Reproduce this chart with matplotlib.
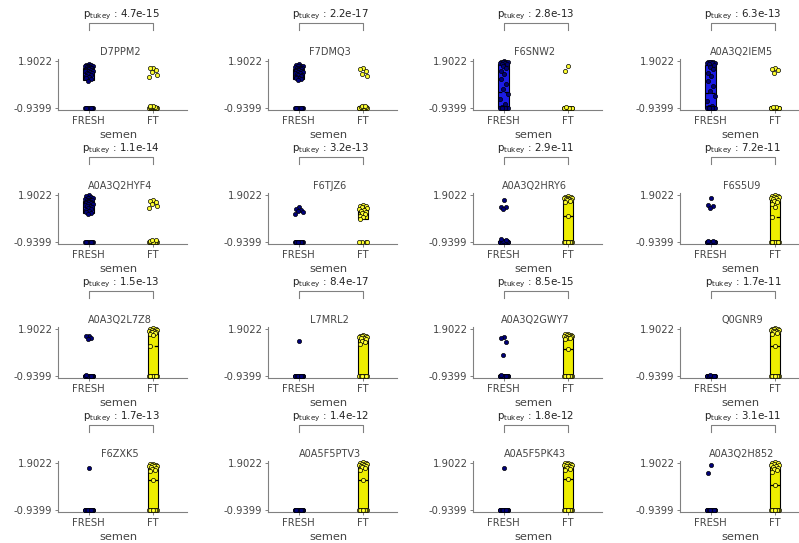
import numpy as np
import matplotlib
matplotlib.use("Agg")
import matplotlib.pyplot as plt

# ---- data ----------------------------------------------------------------
proteins = ["D7PPM2", "F7DMQ3", "F6SNW2", "A0A3Q2IEM5",
            "A0A3Q2HYF4", "F6TJZ6", "A0A3Q2HRY6", "F6S5U9",
            "A0A3Q2L7Z8", "L7MRL2", "A0A3Q2GWY7", "Q0GNR9",
            "F6ZXK5", "A0A5F5PTV3", "A0A5F5PK43", "A0A3Q2H852"]

p_tukey = ["4.7e-15", "2.2e-17", "2.8e-13", "6.3e-13",
           "1.1e-14", "3.2e-13", "2.9e-11", "7.2e-11",
           "1.5e-13", "8.4e-17", "8.5e-15", "1.7e-11",
           "1.7e-13", "1.4e-12", "1.8e-12", "3.1e-11"]

groups = ["FRESH", "FT"]
y_ticks = [-0.9399, 1.9022]

fresh = [
    [1.72, 1.68, 1.65, 1.62, 1.6, 1.57, 1.55, 1.52, 1.5, 1.47, 1.45, 1.42, 1.4, 1.37,
     1.35, 1.32, 1.3, 1.27, 1.25, 1.2, 1.15, 1.1, 1.05, 1.0, 0.95, 0.88, 0.8, 0.7]
    + [-0.94] * 6 + [-0.93, -0.92],
    [1.7, 1.66, 1.62, 1.6, 1.57, 1.54, 1.5, 1.48, 1.45, 1.42, 1.4, 1.37, 1.34, 1.3,
     1.28, 1.25, 1.22, 1.2, 1.16, 1.12, 1.08, 1.04, 1.0, 0.95, 0.9, 0.85, 0.8, 0.75]
    + [-0.94] * 6 + [-0.93, -0.92],
    [1.88, 1.86, 1.85, 1.84, 1.82, 1.8, 1.78, 1.75, 1.7, 1.6, 1.5, 1.3, 1.1, 0.8,
     0.5, 0.2, -0.1, -0.4, -0.7, -0.9] + [-0.94] * 12,
    [1.86, 1.85, 1.84, 1.82, 1.8, 1.78, 1.76, 1.72, 1.65, 1.55, 1.4, 1.2, 1.0, 0.7,
     0.4, 0.1, -0.2, -0.5, -0.8, -0.9] + [-0.94] * 12,
    [1.88, 1.82, 1.78, 1.74, 1.7, 1.66, 1.62, 1.6, 1.57, 1.54, 1.5, 1.48, 1.45, 1.42,
     1.4, 1.37, 1.34, 1.3, 1.26, 1.22, 1.18, 1.12, 1.06, 1.0, 0.95, 0.88, 0.82, 0.75]
    + [-0.94] * 6 + [-0.93, -0.92],
    [1.15, 1.05, 1.0, 0.95, 0.85, 0.75] + [-0.94] * 22,
    [1.62, 1.2, 1.15, 1.08] + [-0.94] * 16 + [-0.9, -0.86, -0.82, -0.78],
    [1.75, 1.32, 1.22, 1.1] + [-0.94] * 18 + [-0.9, -0.86],
    [1.5, 1.45, 1.38, 1.3] + [-0.94] * 18 + [-0.91, -0.88],
    [1.2] + [-0.94] * 22,
    [1.42, 1.38, 1.12, 0.3] + [-0.94] * 18 + [-0.91, -0.88],
    [-0.94] * 20 + [-0.92, -0.9],
    [1.6] + [-0.94] * 22,
    [-0.94] * 24,
    [1.6] + [-0.94] * 22,
    [1.8, 1.28] + [-0.94] * 20,
]

ft = [
    [1.5, 1.45, 1.38, 1.25, 1.05, 0.95] + [-0.94] * 14 + [-0.92, -0.9, -0.88, -0.86, -0.84, -0.8],
    [1.48, 1.4, 1.32, 1.12, 1.0] + [-0.94] * 13 + [-0.92, -0.9, -0.87, -0.84, -0.82],
    [1.58, 1.32] + [-0.94] * 16 + [-0.92, -0.9],
    [1.5, 1.42, 1.35, 1.2] + [-0.94] * 14 + [-0.9, -0.86],
    [1.6, 1.55, 1.48, 1.38, 1.25, 1.12] + [-0.94] * 18 + [-0.92, -0.88, -0.84, -0.8],
    [1.3, 1.25, 1.22, 1.18, 1.12, 1.08, 1.0, 0.95, 0.9, 0.82, 0.75, 0.65, 0.55, 0.45]
    + [-0.94] * 4,
    [1.85, 1.8, 1.78, 1.75, 1.72, 1.7, 1.68, 1.65, 1.62, 1.6, 1.55, 1.5, 0.65] + [-0.94] * 12,
    [1.9, 1.85, 1.82, 1.8, 1.78, 1.75, 1.7, 1.65, 1.6, 1.55, 1.45, 1.35, 1.2, 0.55]
    + [-0.94] * 13,
    [1.95, 1.9, 1.88, 1.85, 1.82, 1.8, 1.78, 1.75, 1.72, 1.7, 1.65, 1.6, 1.55, 0.85]
    + [-0.94] * 13,
    [1.55, 1.5, 1.48, 1.45, 1.42, 1.4, 1.38, 1.35, 1.3, 1.2, 1.12, 0.97] + [-0.94] * 10,
    [1.6, 1.58, 1.55, 1.52, 1.5, 1.48, 1.45, 1.42, 1.4, 1.38, 1.35, 1.3, 0.7] + [-0.94] * 12,
    [1.95, 1.92, 1.9, 1.88, 1.85, 1.82, 1.8, 1.78, 1.75, 1.7, 1.65, 1.6, 0.85] + [-0.94] * 12,
    [1.85, 1.82, 1.8, 1.78, 1.75, 1.72, 1.7, 1.65, 1.6, 1.55, 1.48, 1.4, 0.9] + [-0.94] * 12,
    [1.95, 1.92, 1.9, 1.87, 1.84, 1.8, 1.77, 1.73, 1.7, 1.65, 1.6, 1.5, 0.9] + [-0.94] * 12,
    [1.9, 1.88, 1.85, 1.82, 1.8, 1.77, 1.74, 1.7, 1.65, 1.6, 1.52, 1.45, 0.95] + [-0.94] * 12,
    [1.95, 1.9, 1.88, 1.85, 1.8, 1.76, 1.72, 1.68, 1.62, 1.55, 1.45, 1.38, 0.57] + [-0.94] * 12,
]

# ---- layout (pixels of the 799x543 target) --------------------------------
W, H = 799, 543
col_left = [58, 268, 473, 680]
row_bottom = [110, 244, 378, 512]
ax_w, ax_h = 129, 51
px = (y_ticks[1] - y_ticks[0]) / 47.0
ylim = (y_ticks[0] - 2 * px, y_ticks[1] + 2 * px)

box_colors = ["#1c1ce8", "#eeee00"]
pt_colors = ["#00007a", "#ffff30"]
grey = "#808080"
txt = "#444444"

jit = np.array([0.0, -0.05, 0.04, -0.02, 0.06, -0.06, 0.02, -0.035, 0.05, -0.01, 0.03, -0.045])

plt.rcParams['font.family'] = ['DejaVu Sans']
fig = plt.figure(figsize=(W / 100, H / 100), dpi=100)

for i, name in enumerate(proteins):
    r, c = divmod(i, 4)
    ax = fig.add_axes([col_left[c] / W, 1 - row_bottom[r] / H, ax_w / W, ax_h / H])
    data = [fresh[i], ft[i]]

    bp = ax.boxplot(data, positions=[0, 1], widths=0.17, patch_artist=True,
                    showfliers=False, showcaps=False,
                    medianprops=dict(color="black", linestyle=(0, (3, 2)), lw=0.9),
                    boxprops=dict(edgecolor="black", lw=0.8),
                    whiskerprops=dict(color="black", lw=0.6))
    for patch, col in zip(bp["boxes"], box_colors):
        patch.set_facecolor(col)

    for g, vals in enumerate(data):
        vals = np.asarray(vals)
        xs = g + np.resize(jit, len(vals))
        ax.scatter(xs, vals, s=9, c=pt_colors[g], edgecolors="black",
                   linewidths=0.5, zorder=3, clip_on=False)

    ax.set_xlim(-0.48, 1.53)
    ax.set_ylim(*ylim)
    ax.set_xticks([0, 1])
    ax.set_xticklabels(groups)
    ax.set_yticks(y_ticks)
    ax.set_yticklabels(["%.4f" % v for v in y_ticks])
    ax.tick_params(length=2.5, width=0.7, color=grey, labelcolor=txt,
                   labelsize=7.2, pad=1.5)
    for s in ["top", "right"]:
        ax.spines[s].set_visible(False)
    for s in ["left", "bottom"]:
        ax.spines[s].set_color(grey)
        ax.spines[s].set_linewidth(0.8)

    ax.text(0.48, 1.14, name, transform=ax.transAxes, ha="center", va="center",
            fontsize=7, color=txt)
    ax.text(0.465, -0.49, "semen", transform=ax.transAxes, ha="center", va="center",
            fontsize=8.2, color=txt)

    # p-value bracket
    tr = ax.get_xaxis_transform()
    ax.plot([0, 0, 1, 1], [1.57, 1.71, 1.71, 1.57], color=grey, lw=0.8,
            transform=tr, clip_on=False)
    ax.text(0.5, 1.87, r"$\mathregular{p_{tukey}}$ : " + p_tukey[i], transform=tr,
            ha="center", va="center", fontsize=7.4, color="#222222")

fig.savefig("out.png", dpi=100)
